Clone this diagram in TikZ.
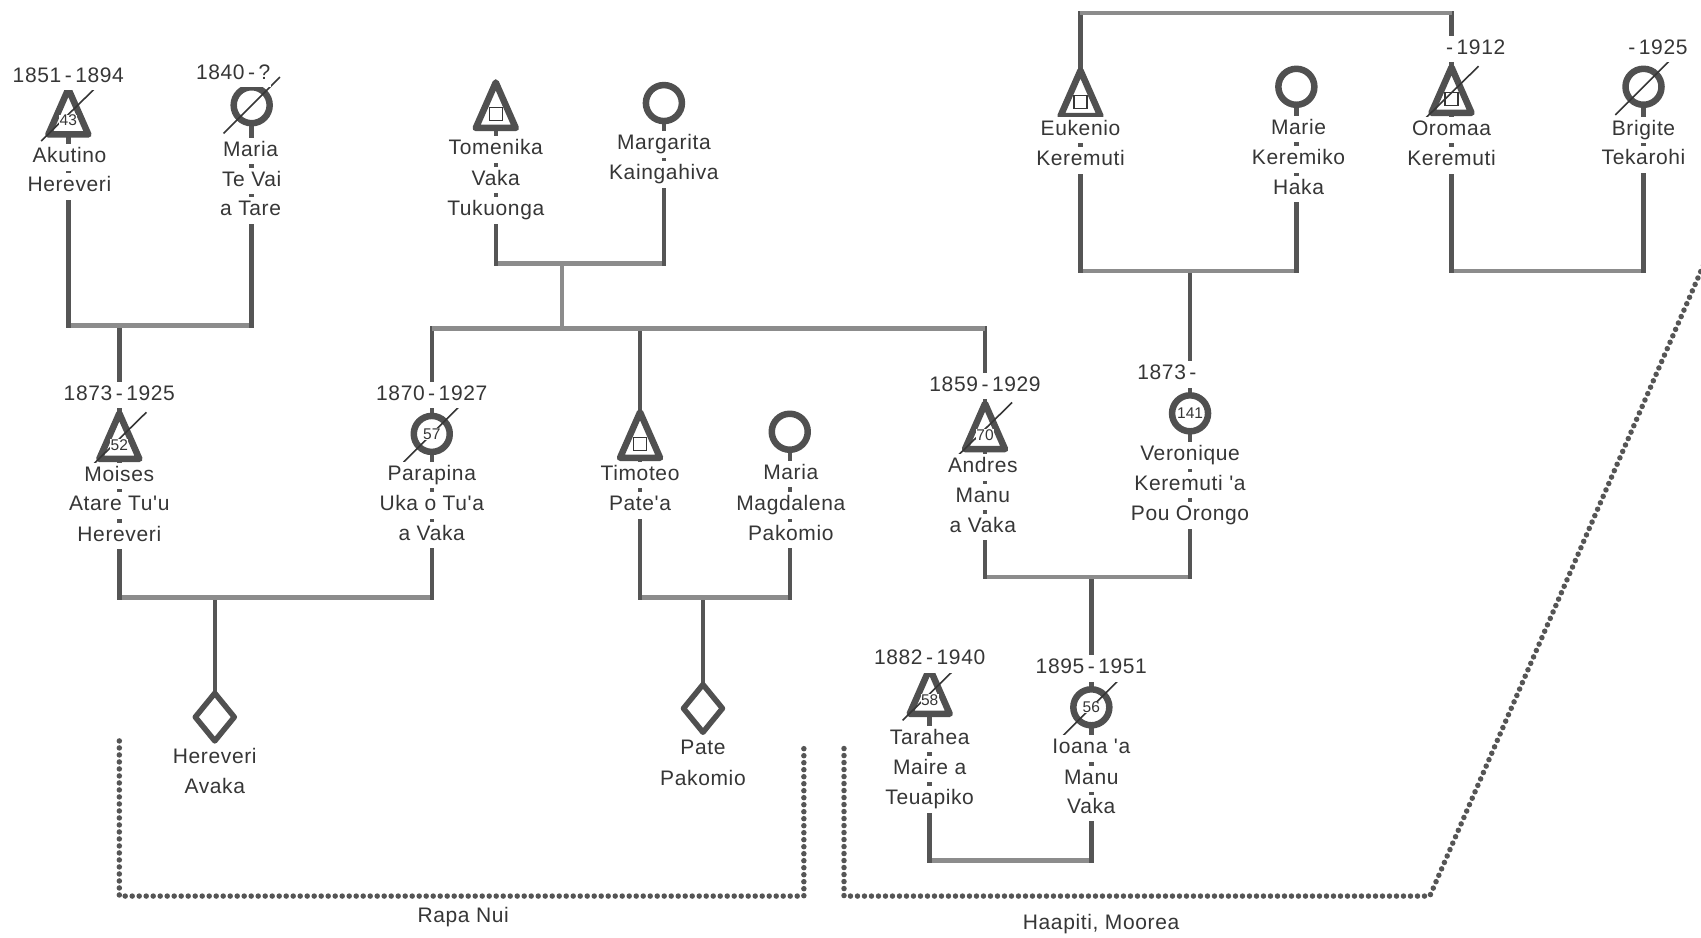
\documentclass[tikz,border=0pt]{standalone}
\usepackage{fontspec}
\setmainfont{Liberation Sans}[LetterSpace=3, Ligatures=TeXOff]
\pgfdeclarelayer{bg}
\pgfsetlayers{bg,main}
\definecolor{ln}{HTML}{555555}
\definecolor{hln}{HTML}{8C8C8C}
\definecolor{txt}{HTML}{363636}
\definecolor{shp}{HTML}{505050}
\tikzset{
 nm/.style={fill=white, inner xsep=1pt, inner ysep=3.5pt, text height=15pt, text depth=4.5pt, font=\fontsize{21}{21}\selectfont, text=txt},
 dt/.style={nm},
 lbl/.style={font=\fontsize{21}{21}\selectfont, text=txt, inner sep=0},
 num/.style={fill=white, inner sep=0.3pt, font=\fontsize{15.5}{15.5}\selectfont\addfontfeatures{LetterSpace=0}, text=txt},
 vl/.style={draw=ln, line width=4.5pt, line cap=rect},
 hl/.style={draw=hln, line width=4.5pt},
 outline/.style={draw=shp, line width=6.5pt, fill=white, line join=round},
 strike/.style={draw=txt, line width=1.6pt},
 sq/.style={draw=txt, line width=1.2pt},
 tribox/.style={inner sep=0, outer sep=0, minimum width=40pt, minimum height=45.5pt},
 fem/.style={circle, outline, inner sep=0, outer sep=0, minimum size=36pt},
 dmbox/.style={inner sep=0, outer sep=0, minimum width=39pt, minimum height=47.7pt},
 dots/.style={draw=ln, line width=5.5pt, line cap=round, dash pattern=on 0pt off 7pt},
}
\newcommand\Male[3]{\node[tribox] (#1) at (#2,#3) {};
 \draw[outline] (#1.north) -- (#1.south east) -- (#1.south west) -- cycle;}
\newcommand\Sq[1]{\draw[sq] ([shift={(-6,2)}]#1.center) rectangle ([shift={(6,14)}]#1.center);}
\newcommand\Num[2]{\node[num] (#1-num) at ([shift={(0,8)}]#1.center) {#2};}
\newcommand\NumC[2]{\node[num] (#1-num) at (#1.center) {#2};}
\newcommand\Strike[1]{\draw[strike] ([shift={(-25,27)}]#1.center) -- ([shift={(25,-22)}]#1.center);}
\newcommand\StrikeC[1]{\draw[strike] ([shift={(-26,26)}]#1.center) -- ([shift={(26,-26)}]#1.center);}
\newcommand\Dia[3]{\node[dmbox] (#1) at (#2,#3) {};
 \draw[outline, line width=5.5pt] (#1.north) -- (#1.east) -- (#1.south) -- (#1.west) -- cycle;}
\begin{document}
\begin{tikzpicture}[x=1.0848pt, y=-1.0848pt]
\useasboundingbox (0,0) rectangle (1568,864);

% ---- persons ----
\Male{akutino}{63}{103} \Strike{akutino} \Num{akutino}{43}
\node[dt] (akutino-d) at (63,71) {1851\,-\,1894};
\node[nm] (akutino-1) at (64,145) {Akutino};
\node[nm] (akutino-2) at (64,172) {Hereveri};

\node[fem] (maria) at (232,97) {}; \StrikeC{maria}
\node[dt] (maria-d) at (215,68) {1840\,-\,?};
\node[nm] (maria-1) at (231,139) {Maria};
\node[nm] (maria-2) at (232,167) {Te Vai};
\node[nm] (maria-3) at (231,194) {a Tare};

\Male{moises}{110}{402} \Strike{moises} \Num{moises}{52}
\node[dt] (moises-d) at (110,364) {1873\,-\,1925};
\node[nm] (moises-1) at (110,439) {Moises};
\node[nm] (moises-2) at (110,466) {Atare Tu'u};
\node[nm] (moises-3) at (110,494) {Hereveri};

\Male{tomenika}{457}{97} \Sq{tomenika}
\node[nm] (tomenika-1) at (457,138) {Tomenika};
\node[nm] (tomenika-2) at (457,166) {Vaka};
\node[nm] (tomenika-3) at (457,194) {Tukuonga};

\node[fem] (margarita) at (612,95) {};
\node[nm] (margarita-1) at (612,133) {Margarita};
\node[nm] (margarita-2) at (612,161) {Kaingahiva};

\node[fem] (parapina) at (398,400) {}; \StrikeC{parapina} \NumC{parapina}{57}
\node[dt] (parapina-d) at (398,364) {1870\,-\,1927};
\node[nm] (parapina-1) at (398,438) {Parapina};
\node[nm] (parapina-2) at (398,466) {Uka o Tu'a};
\node[nm] (parapina-3) at (398,493) {a Vaka};

\Male{timoteo}{590}{401} \Sq{timoteo}
\node[nm] (timoteo-1) at (590,438) {Timoteo};
\node[nm] (timoteo-2) at (590,466) {Pate'a};

\node[fem] (mariam) at (728,398) {};
\node[nm] (mariam-1) at (729,437) {Maria};
\node[nm] (mariam-2) at (729,466) {Magdalena};
\node[nm] (mariam-3) at (729,493) {Pakomio};

\Male{andres}{908}{393} \Strike{andres} \Num{andres}{70}
\node[dt] (andres-d) at (908,356) {1859\,-\,1929};
\node[nm] (andres-1) at (906,431) {Andres};
\node[nm] (andres-2) at (906,458) {Manu};
\node[nm] (andres-3) at (906,486) {a Vaka};

\Male{eukenio}{996}{86} \Sq{eukenio}
\node[nm] (eukenio-1) at (996,120) {Eukenio};
\node[nm] (eukenio-2) at (996,148) {Keremuti};

\node[fem] (marie) at (1195,80) {};
\node[nm] (marie-1) at (1197,119) {Marie};
\node[nm] (marie-2) at (1197,147) {Keremiko};
\node[nm] (marie-3) at (1197,174) {Haka};

\node[fem] (veronique) at (1097,381) {}; \NumC{veronique}{141}
\node[dt, anchor=east] (veronique-d) at (1104,345) {1873\,-};
\node[nm] (veronique-1) at (1097,420) {Veronique};
\node[nm] (veronique-2) at (1097,447) {Keremuti 'a};
\node[nm] (veronique-3) at (1097,475) {Pou Orongo};

\Male{oromaa}{1338}{83} \Sq{oromaa} \Strike{oromaa}
\node[dt, anchor=west] (oromaa-d) at (1332,45) {-\,1912};
\node[nm] (oromaa-1) at (1338,120) {Oromaa};
\node[nm] (oromaa-2) at (1338,148) {Keremuti};

\node[fem] (brigite) at (1515,80) {}; \StrikeC{brigite}
\node[dt, anchor=west] (brigite-d) at (1500,45) {-\,1925};
\node[nm] (brigite-1) at (1515,120) {Brigite};
\node[nm] (brigite-2) at (1515,147) {Tekarohi};

\Male{tarahea}{857}{637} \Strike{tarahea} \Num{tarahea}{58}
\node[dt] (tarahea-d) at (857,608) {1882\,-\,1940};
\node[nm] (tarahea-1) at (857,681) {Tarahea};
\node[nm] (tarahea-2) at (857,709) {Maire a};
\node[nm] (tarahea-3) at (857,737) {Teuapiko};

\node[fem] (ioana) at (1006,652) {}; \StrikeC{ioana} \NumC{ioana}{56}
\node[dt] (ioana-d) at (1006,616) {1895\,-\,1951};
\node[nm] (ioana-1) at (1006,690) {Ioana 'a};
\node[nm] (ioana-2) at (1006,718) {Manu};
\node[nm] (ioana-3) at (1006,745) {Vaka};

\Dia{hereveri}{198}{661}
\node[nm] (hereveri-1) at (198,699) {Hereveri};
\node[nm] (hereveri-2) at (198,727) {Avaka};

\Dia{pate}{648}{653}
\node[nm] (pate-1) at (648,691) {Pate};
\node[nm] (pate-2) at (648,719) {Pakomio};

% ---- regions ----
\draw[dots] (110,683) -- (110,826) -- (741,826) -- (741,690);
\draw[dots] (778,690) -- (778,826) -- (1318,826) -- (1580,222);
\node[lbl] (rapanui) at (427,845) {Rapa Nui};
\node[lbl] (haapiti) at (1015,852) {Haapiti, Moorea};

% ---- family coordinates ----
\coordinate (famA) at (110,300);
\coordinate (famB) at (518,243);
\coordinate (sibB) at (518,303);
\coordinate (famC) at (198,551);
\coordinate (famD) at (648,551);
\coordinate (sibE) at (1167,12);
\coordinate (famE) at (1097,250);
\coordinate (famF) at (1426,250);
\coordinate (famG) at (1006,532);
\coordinate (famH) at (931,793);

\begin{pgfonlayer}{bg}
\fill[white] (0,0) rectangle (1568,864);
% child / descent lines
\draw[vl] (famA) -- (moises.north);
\draw[vl] (parapina |- sibB) -- (parapina.north);
\draw[vl] (timoteo |- sibB) -- (timoteo.north);
\draw[vl] (andres |- sibB) -- (andres.north);
\draw[vl] (famC) -- (hereveri.north);
\draw[vl] (famD) -- (pate.north);
\draw[vl] (eukenio |- sibE) -- (eukenio.north);
\draw[vl] (oromaa |- sibE) -- (oromaa.north);
\draw[vl] (famE) -- (veronique.north);
\draw[vl] (famG) -- (ioana.north);
\draw[hl, line width=3.5pt] (famB) -- (sibB);
% bars
\draw[hl] (akutino |- famA) -- (maria |- famA);
\draw[hl] (tomenika |- famB) -- (margarita |- famB);
\draw[hl] (parapina |- sibB) -- (andres |- sibB);
\draw[hl] (moises |- famC) -- (parapina |- famC);
\draw[hl] (timoteo |- famD) -- (mariam |- famD);
\draw[hl] (eukenio |- sibE) -- (oromaa |- sibE);
\draw[hl] (eukenio |- famE) -- (marie |- famE);
\draw[hl] (oromaa |- famF) -- (brigite |- famF);
\draw[hl] (andres |- famG) -- (veronique |- famG);
\draw[hl] (tarahea |- famH) -- (ioana |- famH);
% parent lines
\draw[vl] (akutino.south) -- (akutino |- famA);
\draw[vl] (maria.south) -- (maria |- famA);
\draw[vl] (tomenika.south) -- (tomenika |- famB);
\draw[vl] (margarita.south) -- (margarita |- famB);
\draw[vl] (moises.south) -- (moises |- famC);
\draw[vl] (parapina.south) -- (parapina |- famC);
\draw[vl] (timoteo.south) -- (timoteo |- famD);
\draw[vl] (mariam.south) -- (mariam |- famD);
\draw[vl] (eukenio.south) -- (eukenio |- famE);
\draw[vl] (marie.south) -- (marie |- famE);
\draw[vl] (oromaa.south) -- (oromaa |- famF);
\draw[vl] (brigite.south) -- (brigite |- famF);
\draw[vl] (andres.south) -- (andres |- famG);
\draw[vl] (veronique.south) -- (veronique |- famG);
\draw[vl] (tarahea.south) -- (tarahea |- famH);
\draw[vl] (ioana.south) -- (ioana |- famH);
\end{pgfonlayer}
\end{tikzpicture}
\end{document}
